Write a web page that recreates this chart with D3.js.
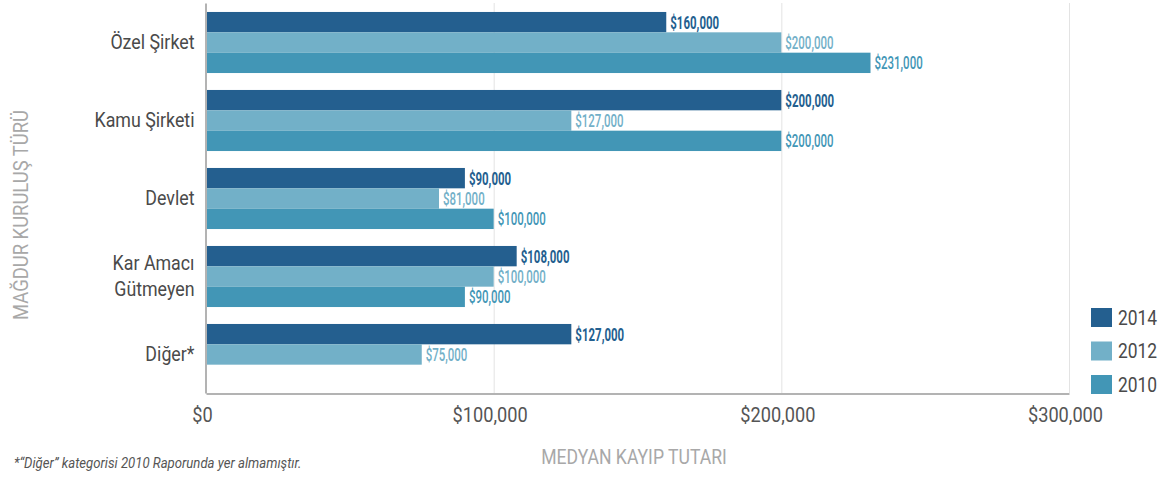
<!DOCTYPE html>
<html>
<head>
<meta charset="utf-8">
<script src="https://cdn.jsdelivr.net/npm/d3@7"></script>
<style>
    body { margin: 0; background: #fff; }
    text { font-family: Roboto, "Liberation Sans", sans-serif; }
</style>
</head>
<body>
<div id="chart"></div>
<script>
var categories = ["Özel Şirket", "Kamu Şirketi", "Devlet", "Kar Amacı Gütmeyen", "Diğer*"];
var categoryLines = [["Özel Şirket"], ["Kamu Şirketi"], ["Devlet"], ["Kar Amacı", "Gütmeyen"], ["Diğer*"]];
var years = ["2014", "2012", "2010"];
var values2014 = [160000, 200000, 90000, 108000, 127000];
var values2012 = [200000, 127000, 81000, 100000, 75000];
var values2010 = [231000, 200000, 100000, 90000, null];
var xTicks = [0, 100000, 200000, 300000];

var colors = {"2014": "#245f8f", "2012": "#72b0c8", "2010": "#4296b6"};
var labelWeight = {"2014": "bold", "2012": 500, "2010": 500};

var width = 1167, height = 477;
var plotLeft = 206, plotRight = 1069, plotTop = 3, plotBottom = 393;

var series = {"2014": values2014, "2012": values2012, "2010": values2010};

var rows = []
categories.forEach(function(c, i) {
    years.forEach(function(yr) {
        if (series[yr][i] != null) rows.push({category: c, year: yr, value: series[yr][i]});
    })
})

var svg = d3.select("#chart")
    .append("svg")
        .attr("width", width)
        .attr("height", height)

var x = d3.scaleLinear()
    .domain([0, 300000])
    .range([plotLeft, plotRight])

var y = d3.scaleBand()
    .domain(categories)
    .range([plotTop, plotBottom])
    .paddingInner(0.23)
    .paddingOuter(0.115)

var ySub = d3.scaleBand()
    .domain(years)
    .range([0, y.bandwidth() + 1])

// condensed look: squeeze text sideways around its anchor
function squeeze(sel, px, py, sx) {
    sel.attr("transform", "translate(" + px + "," + py + ") scale(" + sx + ",1)")
}

// grid
svg.append("g")
    .selectAll("line")
    .data(xTicks.slice(1))
    .join("line")
        .attr("x1", function(d) { return x(d) + 0.5 })
        .attr("x2", function(d) { return x(d) + 0.5 })
        .attr("y1", plotTop)
        .attr("y2", plotBottom)
        .attr("stroke", "#e3e3e3")
        .attr("stroke-width", 1)

// bars
svg.append("g")
    .selectAll("rect")
    .data(rows)
    .join("rect")
        .attr("x", x(0) + 1)
        .attr("y", function(d) { return y(d.category) + ySub(d.year) })
        .attr("width", function(d) { return x(d.value) - x(0) - 1 })
        .attr("height", ySub.bandwidth())
        .attr("fill", function(d) { return colors[d.year] })

// value labels
svg.append("g")
    .selectAll("text")
    .data(rows)
    .join("text")
        .text(function(d) { return d3.format("$,")(d.value) })
        .attr("font-size", 18.5)
        .attr("font-weight", function(d) { return labelWeight[d.year] })
        .attr("fill", function(d) { return colors[d.year] })
        .each(function(d) {
            squeeze(d3.select(this), x(d.value) + 4, y(d.category) + ySub(d.year) + ySub.bandwidth() / 2 + 6.5, 0.62)
        })

// x axis
var xAxis = svg.append("g")
    .attr("transform", "translate(0," + (plotBottom + 0.5) + ")")
    .call(d3.axisBottom(x)
        .tickValues(xTicks)
        .tickSize(0)
        .tickSizeOuter(0)
        .tickFormat(d3.format("$,")))

xAxis.select(".domain").attr("stroke", "#9a9a9a").attr("stroke-width", 1.5)
xAxis.selectAll("text")
    .attr("font-size", 20)
    .attr("fill", "#555")
    .attr("y", null)
    .attr("dy", null)
    .each(function(d) { squeeze(d3.select(this), -4, 28.5, 0.91) })

// y axis
var yAxis = svg.append("g")
    .attr("transform", "translate(" + (plotLeft - 0.5) + ",0)")
    .call(d3.axisLeft(y)
        .tickSize(0)
        .tickSizeOuter(0)
        .tickFormat(""))

yAxis.select(".domain").attr("stroke", "#9a9a9a").attr("stroke-width", 1.5)

yAxis.selectAll(".tick text").remove()
yAxis.selectAll(".tick")
    .append("text")
        .attr("font-size", 20)
        .attr("fill", "#4a4a4a")
        .attr("text-anchor", "end")
        .each(function(d, i) {
            var t = d3.select(this)
            var lines = categoryLines[i]
            lines.forEach(function(line, j) {
                t.append("tspan")
                    .attr("x", 0)
                    .attr("y", (j - (lines.length - 1) / 2) * 26 + 7)
                    .text(line)
            })
            squeeze(t, -11, 0, 0.89)
        })

// axis titles
svg.append("text")
    .text("MEDYAN KAYIP TUTARI")
    .attr("font-size", 20)
    .attr("fill", "#a8a8a8")
    .attr("text-anchor", "middle")
    .call(squeeze, 634, 464, 0.88)

svg.append("text")
    .text("MAĞDUR KURULUŞ TÜRÜ")
    .attr("font-size", 20)
    .attr("fill", "#a8a8a8")
    .attr("text-anchor", "middle")
    .attr("transform", "translate(28,215) rotate(-90) scale(0.92,1)")

// footnote
svg.append("text")
    .text("*\u201cDiğer\u201d kategorisi 2010 Raporunda yer almamıştır.")
    .attr("font-size", 14)
    .attr("font-style", "italic")
    .attr("fill", "#555")
    .call(squeeze, 14, 468, 0.94)

// legend
var legend = svg.append("g")
    .selectAll("g")
    .data(years)
    .join("g")
        .attr("transform", function(d, i) { return "translate(1091," + (308 + i * 33.5) + ")" })

legend.append("rect")
    .attr("width", 21)
    .attr("height", 19)
    .attr("fill", function(d) { return colors[d] })

legend.append("text")
    .text(function(d) { return d })
    .attr("font-size", 20)
    .attr("fill", "#4a4a4a")
    .call(squeeze, 27, 16.5, 0.87)
</script>
</body>
</html>
